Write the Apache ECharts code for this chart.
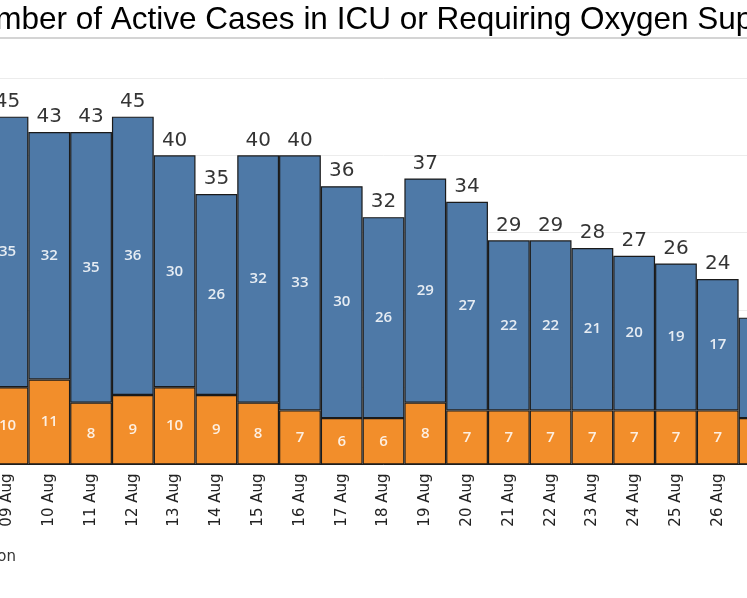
<!DOCTYPE html>
<html>
<head>
<meta charset="utf-8">
<style>
  html, body { margin: 0; padding: 0; background: #fff; overflow: hidden; }
  body { width: 747px; height: 598px; position: relative; }
  /* the reference is a crop of a wider chart, so the canvas hangs off both sides */
  #main { position: absolute; left: -60px; top: 0; width: 867px; height: 598px; }
</style>
<script src="https://cdn.jsdelivr.net/npm/echarts@6/dist/echarts.min.js"></script>
</head>
<body>
<div id="main"></div>
<script>
    "use strict";

    const dates = ['09 Aug', '10 Aug', '11 Aug', '12 Aug', '13 Aug', '14 Aug', '15 Aug', '16 Aug', '17 Aug', '18 Aug',
                   '19 Aug', '20 Aug', '21 Aug', '22 Aug', '23 Aug', '24 Aug', '25 Aug', '26 Aug', '27 Aug'];
    const icu    = [10, 11, 8, 9, 10, 9, 8, 7, 6, 6, 8, 7, 7, 7, 7, 7, 7, 7, 6];
    const oxygen = [35, 32, 35, 36, 30, 26, 32, 33, 30, 26, 29, 27, 22, 22, 21, 20, 19, 17, 13];
    const yTicks = [0, 10, 20, 30, 40, 50];

    const totals = oxygen.map((v, i) => v + icu[i]);

    const myChart = echarts.init(document.getElementById('main'));

    const innerLabel = {
        show: true,
        position: 'inside',
        color: 'rgba(255,255,255,0.86)',
        fontFamily: 'Open Sans',
        fontWeight: 600,
        fontSize: 15
    };

    let options = {
        animation: false,
        graphic: [
            {
                type: 'text',
                left: 15,
                top: 4,
                style: {
                    text: 'Number of Active Cases in ICU or Requiring Oxygen Support',
                    font: '31.5px "Liberation Sans", Arial, sans-serif',
                    fill: '#000'
                }
            },
            {
                type: 'line',
                shape: { x1: 0, y1: 38, x2: 867, y2: 38 },
                style: { stroke: '#d4d4d4', lineWidth: 2 }
            },
            {
                type: 'text',
                x: 76,
                y: 557,
                style: {
                    text: 'Requiring Oxygen Supplementation',
                    font: '15px "DejaVu Sans", sans-serif',
                    fill: '#333',
                    align: 'right',
                    verticalAlign: 'middle'
                }
            }
        ],
        grid: {
            left: 46.6,
            right: 26.6,
            top: 78,
            bottom: 133.5
        },
        xAxis: {
            type: 'category',
            data: dates,
            axisLine: { show: true, lineStyle: { color: '#222', width: 1 } },
            axisTick: { alignWithLabel: true, length: 5, lineStyle: { color: '#444' } },
            axisLabel: {
                rotate: 90,
                margin: 9,
                color: '#222',
                fontFamily: 'DejaVu Sans',
                fontSize: 15
            }
        },
        yAxis: {
            type: 'value',
            min: yTicks[0],
            max: yTicks[yTicks.length - 1],
            interval: 10,
            axisLabel: { show: false },
            axisLine: { show: false },
            axisTick: { show: false },
            splitLine: { lineStyle: { color: '#ececec', width: 1 } }
        },
        series: [
            {
                name: 'In ICU',
                type: 'bar',
                stack: 'total',
                barCategoryGap: '0%',
                itemStyle: { color: '#f28e2b', borderColor: '#1a1a1a', borderWidth: 1.2 },
                label: innerLabel,
                data: icu
            },
            {
                name: 'Requiring Oxygen Supplementation',
                type: 'bar',
                stack: 'total',
                barCategoryGap: '0%',
                itemStyle: { color: '#4e79a7', borderColor: '#1a1a1a', borderWidth: 1.2 },
                label: innerLabel,
                data: oxygen
            },
            {
                name: 'Total',
                type: 'scatter',
                symbolSize: 0,
                itemStyle: { color: 'rgba(0,0,0,0)' },
                label: {
                    show: true,
                    position: 'top',
                    distance: 5,
                    color: '#000',
                    fontFamily: 'DejaVu Sans',
                    fontSize: 20
                },
                z: 5,
                data: totals
            }
        ]
    };
    myChart.setOption(options);
</script>
</body>
</html>
